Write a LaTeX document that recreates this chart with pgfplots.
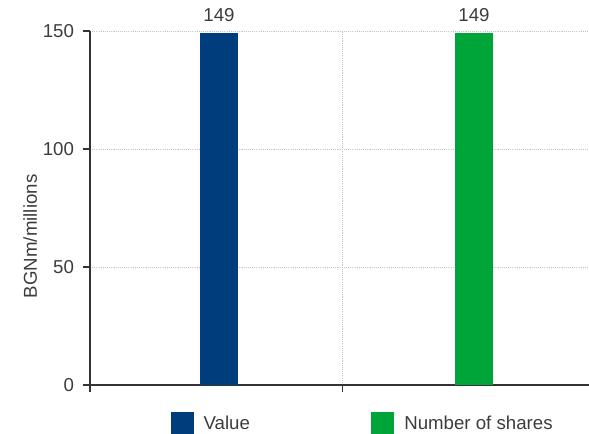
\documentclass[border=0pt]{standalone}
\usepackage{pgfplots}
\pgfplotsset{compat=1.18}
\usepackage{fontspec}
\setmainfont{Liberation Sans}
\definecolor{txt}{HTML}{3C3C3C}
\definecolor{barblue}{HTML}{003D7C}
\definecolor{bargreen}{HTML}{00A53A}
\definecolor{gridc}{HTML}{C4C4C4}
\definecolor{axc}{HTML}{333333}
\newcommand{\chartfont}{\fontsize{14}{16}\selectfont}
\begin{document}
\begin{tikzpicture}
\useasboundingbox (0pt,0pt) rectangle (441.75pt,324.75pt);
\begin{axis}[
  at={(67.5pt,36pt)}, anchor=south west,
  scale only axis, width=374.25pt, height=265.5pt,
  xmin=-0.506, xmax=1.451, ymin=0, ymax=150,
  axis lines=left,
  axis line style={-, draw=axc, line width=0.8pt},
  xtick={-0.506,0.486}, xticklabels={},
  ytick={0,50,100,150},
  xmajorgrids, ymajorgrids,
  major grid style={gridc, dash pattern=on 0.8pt off 0.8pt, line width=0.75pt},
  tick align=outside,
  tick style={axc, line width=0.8pt},
  major tick length=5.5pt,
  /pgf/number format/assume math mode=true,
  yticklabel style={font=\chartfont, text=txt, xshift=-3pt},
  ylabel={BGNm/millions},
  ylabel style={at={(axis description cs:-0.12,0.42)}, anchor=center, font=\chartfont, text=txt},
  ybar, bar width=28.5pt,
  nodes near coords,
  nodes near coords style={font=\chartfont, text=txt, inner sep=0pt, anchor=south, yshift=8.6pt},
  legend columns=2,
  legend style={at={(axis description cs:0.153,-0.0678)}, anchor=north west,
    draw=none, fill=none, font=\chartfont, text=txt,
    nodes={inner sep=0pt},
    /tikz/every odd column/.append style={column sep=7.5pt},
    /tikz/every even column/.append style={column sep=91pt}},
  legend cell align=left,
]
\addplot[fill=barblue, draw=none, bar shift=0pt,
  legend image code/.code={\fill[barblue] (0pt,-8.625pt) rectangle (17.25pt,8.625pt);}]
  coordinates {(0,149)};
\addlegendentry{Value}
\addplot[fill=bargreen, draw=none, bar shift=0pt,
  legend image code/.code={\fill[bargreen] (0pt,-8.625pt) rectangle (17.25pt,8.625pt);}]
  coordinates {(1,149)};
\addlegendentry{Number of shares}
\end{axis}
\end{tikzpicture}
\end{document}
